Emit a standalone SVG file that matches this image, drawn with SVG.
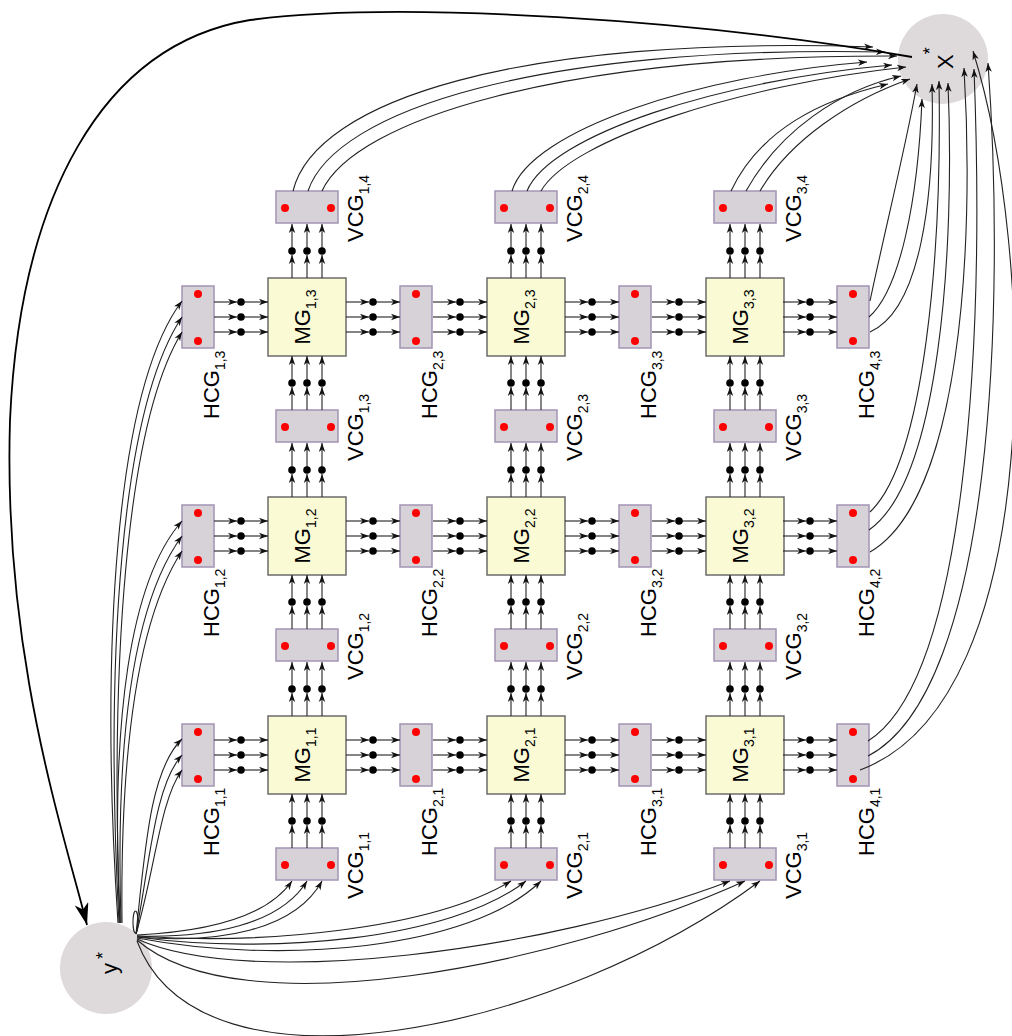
<svg xmlns="http://www.w3.org/2000/svg" width="1012" height="1036" viewBox="0 0 1012 1036">
<style>
.mg{fill:#fafad4;stroke:#6b6b6b;stroke-width:1.5}
.cg{fill:#d7d2d8;stroke:#a294b4;stroke-width:1.5}
.rd{fill:#ff0000}
.cl{fill:#dedadb}
.e{fill:none;stroke:#222;stroke-width:1.1;marker-end:url(#a)}
.big{fill:none;stroke:#000;stroke-width:1.8;marker-end:url(#b)}
.dt{fill:#000}
text{font-family:"Liberation Sans",Arial,sans-serif;font-size:22px;fill:#000}
.sb{font-size:14px}
</style>
<defs>
<marker id="a" markerWidth="10" markerHeight="8" refX="9" refY="4" orient="auto" markerUnits="userSpaceOnUse"><path d="M0,0.8 L9,4 L0,7.2 L2.5,4 z" fill="#111"/></marker>
<marker id="b" markerWidth="24" markerHeight="16" refX="22" refY="7" orient="auto" markerUnits="userSpaceOnUse"><path d="M0,0 L22,7 L0,14 L6,7 z" fill="#000"/></marker>
<g id="hl">
<path class="e" d="M0,-15H23"/><path class="e" d="M27,-15H54"/>
<path class="e" d="M0,0H23"/><path class="e" d="M27,0H54"/>
<path class="e" d="M0,15H23"/><path class="e" d="M27,15H54"/>
<circle class="dt" cx="27" cy="-15" r="3.8"/><circle class="dt" cx="27" cy="0" r="3.8"/><circle class="dt" cx="27" cy="15" r="3.8"/>
</g>
<g id="vl">
<path class="e" d="M-15,0V-23"/><path class="e" d="M-15,-27V-54"/>
<path class="e" d="M0,0V-23"/><path class="e" d="M0,-27V-54"/>
<path class="e" d="M15,0V-23"/><path class="e" d="M15,-27V-54"/>
<circle class="dt" cx="-15" cy="-27" r="3.8"/><circle class="dt" cx="0" cy="-27" r="3.8"/><circle class="dt" cx="15" cy="-27" r="3.8"/>
</g>
</defs>

<g id="nodes">
<g id="X"><circle class="cl" cx="943" cy="59" r="45"/><text transform="translate(953,69) rotate(-90)" font-size="28">X<tspan font-size="18" dy="-17">*</tspan></text></g>
<g id="Y"><circle class="cl" cx="106" cy="968" r="46"/><text transform="translate(117,974) rotate(-90)" font-size="28">y<tspan font-size="18" dy="-8" dx="4">*</tspan></text></g>

<g id="MG1_1"><rect class="mg" x="268" y="716" width="78" height="78"/><text transform="translate(310,755) rotate(-90)" text-anchor="middle">MG<tspan class="sb" dy="6">1,1</tspan></text></g>
<g id="MG2_1"><rect class="mg" x="487" y="716" width="78" height="78"/><text transform="translate(529,755) rotate(-90)" text-anchor="middle">MG<tspan class="sb" dy="6">2,1</tspan></text></g>
<g id="MG3_1"><rect class="mg" x="706" y="716" width="78" height="78"/><text transform="translate(748,755) rotate(-90)" text-anchor="middle">MG<tspan class="sb" dy="6">3,1</tspan></text></g>
<g id="MG1_2"><rect class="mg" x="268" y="497" width="78" height="78"/><text transform="translate(310,536) rotate(-90)" text-anchor="middle">MG<tspan class="sb" dy="6">1,2</tspan></text></g>
<g id="MG2_2"><rect class="mg" x="487" y="497" width="78" height="78"/><text transform="translate(529,536) rotate(-90)" text-anchor="middle">MG<tspan class="sb" dy="6">2,2</tspan></text></g>
<g id="MG3_2"><rect class="mg" x="706" y="497" width="78" height="78"/><text transform="translate(748,536) rotate(-90)" text-anchor="middle">MG<tspan class="sb" dy="6">3,2</tspan></text></g>
<g id="MG1_3"><rect class="mg" x="268" y="278" width="78" height="78"/><text transform="translate(310,317) rotate(-90)" text-anchor="middle">MG<tspan class="sb" dy="6">1,3</tspan></text></g>
<g id="MG2_3"><rect class="mg" x="487" y="278" width="78" height="78"/><text transform="translate(529,317) rotate(-90)" text-anchor="middle">MG<tspan class="sb" dy="6">2,3</tspan></text></g>
<g id="MG3_3"><rect class="mg" x="706" y="278" width="78" height="78"/><text transform="translate(748,317) rotate(-90)" text-anchor="middle">MG<tspan class="sb" dy="6">3,3</tspan></text></g>

<g id="HCG1_1"><rect class="cg" x="182" y="724" width="32" height="62"/><circle class="rd" cx="198" cy="732" r="4"/><circle class="rd" cx="198" cy="779" r="4"/><text transform="translate(219,856) rotate(-90)">HCG<tspan class="sb" dy="6">1,1</tspan></text></g>
<g id="HCG2_1"><rect class="cg" x="400" y="724" width="32" height="62"/><circle class="rd" cx="416" cy="732" r="4"/><circle class="rd" cx="416" cy="779" r="4"/><text transform="translate(437,856) rotate(-90)">HCG<tspan class="sb" dy="6">2,1</tspan></text></g>
<g id="HCG3_1"><rect class="cg" x="619" y="724" width="32" height="62"/><circle class="rd" cx="635" cy="732" r="4"/><circle class="rd" cx="635" cy="779" r="4"/><text transform="translate(656,856) rotate(-90)">HCG<tspan class="sb" dy="6">3,1</tspan></text></g>
<g id="HCG4_1"><rect class="cg" x="837" y="724" width="32" height="62"/><circle class="rd" cx="853" cy="732" r="4"/><circle class="rd" cx="853" cy="779" r="4"/><text transform="translate(874,856) rotate(-90)">HCG<tspan class="sb" dy="6">4,1</tspan></text></g>
<g id="HCG1_2"><rect class="cg" x="182" y="505" width="32" height="62"/><circle class="rd" cx="198" cy="513" r="4"/><circle class="rd" cx="198" cy="560" r="4"/><text transform="translate(219,637) rotate(-90)">HCG<tspan class="sb" dy="6">1,2</tspan></text></g>
<g id="HCG2_2"><rect class="cg" x="400" y="505" width="32" height="62"/><circle class="rd" cx="416" cy="513" r="4"/><circle class="rd" cx="416" cy="560" r="4"/><text transform="translate(437,637) rotate(-90)">HCG<tspan class="sb" dy="6">2,2</tspan></text></g>
<g id="HCG3_2"><rect class="cg" x="619" y="505" width="32" height="62"/><circle class="rd" cx="635" cy="513" r="4"/><circle class="rd" cx="635" cy="560" r="4"/><text transform="translate(656,637) rotate(-90)">HCG<tspan class="sb" dy="6">3,2</tspan></text></g>
<g id="HCG4_2"><rect class="cg" x="837" y="505" width="32" height="62"/><circle class="rd" cx="853" cy="513" r="4"/><circle class="rd" cx="853" cy="560" r="4"/><text transform="translate(874,637) rotate(-90)">HCG<tspan class="sb" dy="6">4,2</tspan></text></g>
<g id="HCG1_3"><rect class="cg" x="182" y="286" width="32" height="62"/><circle class="rd" cx="198" cy="294" r="4"/><circle class="rd" cx="198" cy="341" r="4"/><text transform="translate(219,419) rotate(-90)">HCG<tspan class="sb" dy="6">1,3</tspan></text></g>
<g id="HCG2_3"><rect class="cg" x="400" y="286" width="32" height="62"/><circle class="rd" cx="416" cy="294" r="4"/><circle class="rd" cx="416" cy="341" r="4"/><text transform="translate(437,419) rotate(-90)">HCG<tspan class="sb" dy="6">2,3</tspan></text></g>
<g id="HCG3_3"><rect class="cg" x="619" y="286" width="32" height="62"/><circle class="rd" cx="635" cy="294" r="4"/><circle class="rd" cx="635" cy="341" r="4"/><text transform="translate(656,419) rotate(-90)">HCG<tspan class="sb" dy="6">3,3</tspan></text></g>
<g id="HCG4_3"><rect class="cg" x="837" y="286" width="32" height="62"/><circle class="rd" cx="853" cy="294" r="4"/><circle class="rd" cx="853" cy="341" r="4"/><text transform="translate(874,419) rotate(-90)">HCG<tspan class="sb" dy="6">4,3</tspan></text></g>

<g id="VCG1_1"><rect class="cg" x="276" y="848" width="62" height="32"/><circle class="rd" cx="285" cy="865" r="4"/><circle class="rd" cx="331" cy="865" r="4"/><text transform="translate(363,899) rotate(-90)">VCG<tspan class="sb" dy="6">1,1</tspan></text></g>
<g id="VCG2_1"><rect class="cg" x="495" y="848" width="62" height="32"/><circle class="rd" cx="504" cy="865" r="4"/><circle class="rd" cx="550" cy="865" r="4"/><text transform="translate(582,899) rotate(-90)">VCG<tspan class="sb" dy="6">2,1</tspan></text></g>
<g id="VCG3_1"><rect class="cg" x="714" y="848" width="62" height="32"/><circle class="rd" cx="723" cy="865" r="4"/><circle class="rd" cx="769" cy="865" r="4"/><text transform="translate(801,899) rotate(-90)">VCG<tspan class="sb" dy="6">3,1</tspan></text></g>
<g id="VCG1_2"><rect class="cg" x="276" y="629" width="62" height="32"/><circle class="rd" cx="285" cy="646" r="4"/><circle class="rd" cx="331" cy="646" r="4"/><text transform="translate(363,680) rotate(-90)">VCG<tspan class="sb" dy="6">1,2</tspan></text></g>
<g id="VCG2_2"><rect class="cg" x="495" y="629" width="62" height="32"/><circle class="rd" cx="504" cy="646" r="4"/><circle class="rd" cx="550" cy="646" r="4"/><text transform="translate(582,680) rotate(-90)">VCG<tspan class="sb" dy="6">2,2</tspan></text></g>
<g id="VCG3_2"><rect class="cg" x="714" y="629" width="62" height="32"/><circle class="rd" cx="723" cy="646" r="4"/><circle class="rd" cx="769" cy="646" r="4"/><text transform="translate(801,680) rotate(-90)">VCG<tspan class="sb" dy="6">3,2</tspan></text></g>
<g id="VCG1_3"><rect class="cg" x="276" y="410" width="62" height="32"/><circle class="rd" cx="285" cy="427" r="4"/><circle class="rd" cx="331" cy="427" r="4"/><text transform="translate(363,461) rotate(-90)">VCG<tspan class="sb" dy="6">1,3</tspan></text></g>
<g id="VCG2_3"><rect class="cg" x="495" y="410" width="62" height="32"/><circle class="rd" cx="504" cy="427" r="4"/><circle class="rd" cx="550" cy="427" r="4"/><text transform="translate(582,461) rotate(-90)">VCG<tspan class="sb" dy="6">2,3</tspan></text></g>
<g id="VCG3_3"><rect class="cg" x="714" y="410" width="62" height="32"/><circle class="rd" cx="723" cy="427" r="4"/><circle class="rd" cx="769" cy="427" r="4"/><text transform="translate(801,461) rotate(-90)">VCG<tspan class="sb" dy="6">3,3</tspan></text></g>
<g id="VCG1_4"><rect class="cg" x="276" y="191" width="62" height="32"/><circle class="rd" cx="285" cy="208" r="4"/><circle class="rd" cx="331" cy="208" r="4"/><text transform="translate(363,242) rotate(-90)">VCG<tspan class="sb" dy="6">1,4</tspan></text></g>
<g id="VCG2_4"><rect class="cg" x="495" y="191" width="62" height="32"/><circle class="rd" cx="504" cy="208" r="4"/><circle class="rd" cx="550" cy="208" r="4"/><text transform="translate(582,242) rotate(-90)">VCG<tspan class="sb" dy="6">2,4</tspan></text></g>
<g id="VCG3_4"><rect class="cg" x="714" y="191" width="62" height="32"/><circle class="rd" cx="723" cy="208" r="4"/><circle class="rd" cx="769" cy="208" r="4"/><text transform="translate(801,242) rotate(-90)">VCG<tspan class="sb" dy="6">3,4</tspan></text></g>
</g>

<g id="connectors">
<use href="#hl" x="214" y="755"/><use href="#hl" x="346" y="755"/><use href="#hl" x="433" y="755"/><use href="#hl" x="565" y="755"/><use href="#hl" x="652" y="755"/><use href="#hl" x="783" y="755"/>
<use href="#hl" x="214" y="536"/><use href="#hl" x="346" y="536"/><use href="#hl" x="433" y="536"/><use href="#hl" x="565" y="536"/><use href="#hl" x="652" y="536"/><use href="#hl" x="783" y="536"/>
<use href="#hl" x="214" y="317"/><use href="#hl" x="346" y="317"/><use href="#hl" x="433" y="317"/><use href="#hl" x="565" y="317"/><use href="#hl" x="652" y="317"/><use href="#hl" x="783" y="317"/>
<use href="#vl" x="307" y="848"/><use href="#vl" x="307" y="716"/><use href="#vl" x="307" y="629"/><use href="#vl" x="307" y="497"/><use href="#vl" x="307" y="410"/><use href="#vl" x="307" y="278"/>
<use href="#vl" x="526" y="848"/><use href="#vl" x="526" y="716"/><use href="#vl" x="526" y="629"/><use href="#vl" x="526" y="497"/><use href="#vl" x="526" y="410"/><use href="#vl" x="526" y="278"/>
<use href="#vl" x="745" y="848"/><use href="#vl" x="745" y="716"/><use href="#vl" x="745" y="629"/><use href="#vl" x="745" y="497"/><use href="#vl" x="745" y="410"/><use href="#vl" x="745" y="278"/>

<path class="e" d="M136,934 C145,850 150,770 182,739"/>
<path class="e" d="M136,934 C150,860 155,785 182,755"/>
<path class="e" d="M136,934 C155,870 160,800 182,770"/>
<path class="e" d="M120,923 C110,720 130,580 182,521"/>
<path class="e" d="M121,923 C115,730 135,600 182,536"/>
<path class="e" d="M122,923 C120,740 140,615 182,551"/>
<path class="e" d="M118,923 C100,650 115,390 182,301"/>
<path class="e" d="M119,923 C105,660 120,410 182,317"/>
<path class="e" d="M120,923 C110,670 125,425 182,332"/>

<path class="e" d="M137,935 C200,932 265,920 292,881"/>
<path class="e" d="M137,936 C210,938 280,925 307,881"/>
<path class="e" d="M137,937 C220,944 295,930 322,881"/>
<path class="e" d="M137,936 C260,945 430,930 511,881"/>
<path class="e" d="M137,937 C270,955 450,940 526,881"/>
<path class="e" d="M137,938 C280,965 470,950 541,881"/>
<path class="e" d="M137,939 C250,990 550,950 730,881"/>
<path class="e" d="M137,940 C240,1030 560,965 745,881"/>
<path class="e" d="M137,941 C200,1110 560,1030 760,881"/>

<path class="e" d="M293,191 C315,100 520,35 873,47"/>
<path class="e" d="M308,191 C335,110 540,45 885,52"/>
<path class="e" d="M322,191 C355,120 560,55 897,56"/>
<path class="e" d="M512,191 C530,130 700,75 867,62"/>
<path class="e" d="M527,191 C550,135 720,80 892,65"/>
<path class="e" d="M541,191 C570,140 740,85 906,67"/>
<path class="e" d="M731,191 C760,130 820,100 888,84"/>
<path class="e" d="M746,191 C780,130 840,90 901,76"/>
<path class="e" d="M760,191 C790,140 850,100 910,79"/>

<path class="e" d="M870,301 C885,230 905,150 917,84"/>
<path class="e" d="M869,317 C900,290 918,200 922,99"/>
<path class="e" d="M870,332 C920,310 935,200 932,84"/>
<path class="e" d="M870,512 C925,460 942,250 939,81"/>
<path class="e" d="M869,530 C940,480 955,250 948,83"/>
<path class="e" d="M870,552 C960,500 975,250 964,68"/>
<path class="e" d="M868,741 C965,680 985,350 974,69"/>
<path class="e" d="M868,756 C995,690 1005,300 988,63"/>
<path class="e" d="M860,770 C1050,700 1035,250 973,51"/>

<path class="big" d="M912,57 C700,20 400,0 250,20 C100,45 20,200 10,420 C3,650 60,820 87,925"/>
<ellipse cx="135.5" cy="922" rx="2.5" ry="11" fill="none" stroke="#222" stroke-width="1.1"/>
</g>
</svg>
